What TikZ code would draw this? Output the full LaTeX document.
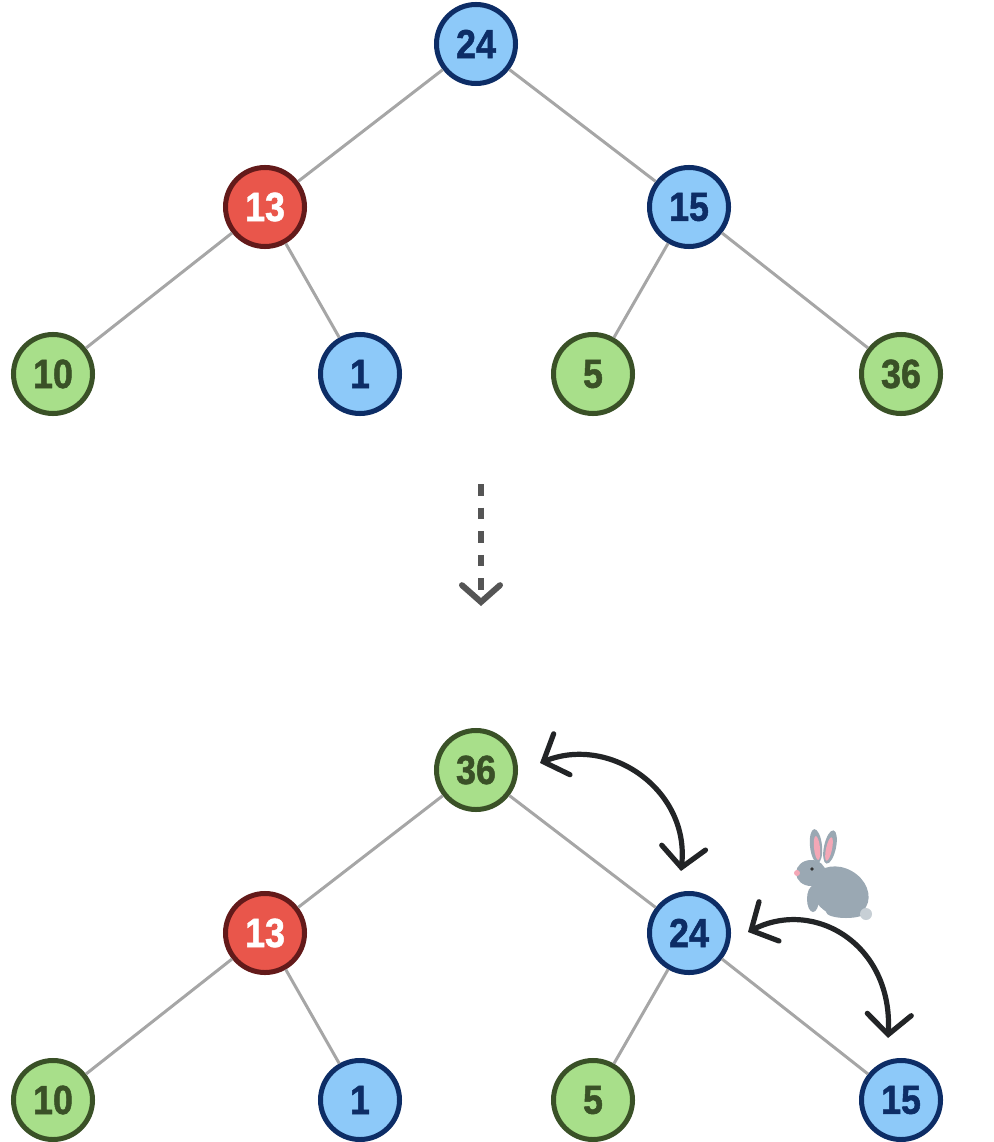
\documentclass[tikz,border=0pt]{standalone}
\usepackage{fontspec}
\setmainfont{Liberation Sans}[FakeStretch=0.88, BoldFeatures={FakeBold=1.2}]
\usetikzlibrary{arrows.meta}
\definecolor{bluefill}{HTML}{8DC9F9}
\definecolor{blueline}{HTML}{0D2D66}
\definecolor{redfill}{HTML}{E9564B}
\definecolor{redline}{HTML}{631A1A}
\definecolor{greenfill}{HTML}{A8DF8A}
\definecolor{greenline}{HTML}{3A5127}
\definecolor{edgegray}{HTML}{A6A6A6}
\definecolor{flowgray}{HTML}{555555}
\definecolor{swapblack}{HTML}{222426}
\definecolor{bunnygray}{HTML}{9AA8B3}
\definecolor{bunnypink}{HTML}{F4A7B6}

\begin{document}
\begin{tikzpicture}[x=0.025cm, y=-0.025cm,
  key/.style={circle, minimum size=1.975cm, inner sep=0pt, line width=0.125cm,
    font=\bfseries\fontsize{29}{29}\selectfont},
  bluekey/.style={key, draw=blueline, fill=bluefill, text=blueline},
  redkey/.style={key, draw=redline, fill=redfill, text=white},
  greenkey/.style={key, draw=greenline, fill=greenfill, text=greenline},
  edge/.style={draw=edgegray, line width=0.075cm},
  flow/.style={draw=flowgray, line width=0.15cm, dash pattern=on 0.29cm off 0.3cm,
    -{Straight Barb[length=0.42cm, width=0.95cm, line cap=round]}},
  swap/.style={draw=swapblack, line width=0.13cm,
    {Straight Barb[length=0.5cm, width=1.1cm, line cap=round]}-{Straight Barb[length=0.5cm, width=1.1cm, line cap=round]}}]
\useasboundingbox (0,0) rectangle (993,1142);

\node[bluekey]  (t24) at (476,44)  {24};
\node[redkey]   (t13) at (265,207) {13};
\node[bluekey]  (t15) at (689,207) {15};
\node[greenkey] (t10) at (53,374)  {10};
\node[bluekey]  (t1)  at (360,374) {1};
\node[greenkey] (t5)  at (593,374) {5};
\node[greenkey] (t36) at (901,374) {36};
\draw[edge] (t24) -- (t13);
\draw[edge] (t24) -- (t15);
\draw[edge] (t13) -- (t10);
\draw[edge] (t13) -- (t1);
\draw[edge] (t15) -- (t5);
\draw[edge] (t15) -- (t36);

\coordinate (dtop) at (481,484);
\coordinate (dbot) at (481,606);
\draw[flow] (dtop) -- (dbot);

\node[greenkey] (b36) at (476,770)  {36};
\node[redkey]   (b13) at (265,933)  {13};
\node[bluekey]  (b24) at (689,933)  {24};
\node[greenkey] (b10) at (53,1100)  {10};
\node[bluekey]  (b1)  at (360,1100) {1};
\node[greenkey] (b5)  at (593,1100) {5};
\node[bluekey]  (b15) at (901,1100) {15};
\draw[edge] (b36) -- (b13);
\draw[edge] (b36) -- (b24);
\draw[edge] (b13) -- (b10);
\draw[edge] (b13) -- (b1);
\draw[edge] (b24) -- (b5);
\draw[edge] (b24) -- (b15);

\coordinate (s1a) at (540,763);
\coordinate (s1b) at (681,871);
\coordinate (s2a) at (748,932);
\coordinate (s2b) at (888,1038);
\draw[swap] (s1a) .. controls (610,735) and (690,790) .. (s1b);
\draw[swap] (s2a) .. controls (815,898) and (893,945) .. (s2b);

\fill[bunnygray, rotate around={6:(816,846)}] (816,846) ellipse (6 and 17);
\fill[bunnygray, rotate around={-12:(830,847)}] (830,847) ellipse (6 and 17);
\fill[bunnypink, rotate around={6:(817,848)}] (817,848) ellipse (3 and 12);
\fill[bunnypink, rotate around={-12:(829,849)}] (829,849) ellipse (3 and 12);
\fill[bunnygray, rotate around={-30:(840,892)}] (840,892) ellipse (30 and 24);
\fill[bunnygray] (811,873) ellipse (15 and 13);
\fill[bunnygray] (813,899) ellipse (6 and 13);
\fill[bunnygray] (846,912) ellipse (20 and 6);
\fill[bunnygray!55!white] (866,914) circle (6);
\fill[bunnypink] (797,873) circle (3);
\fill[black!80] (812,869) circle (1.8);
\end{tikzpicture}
\end{document}
